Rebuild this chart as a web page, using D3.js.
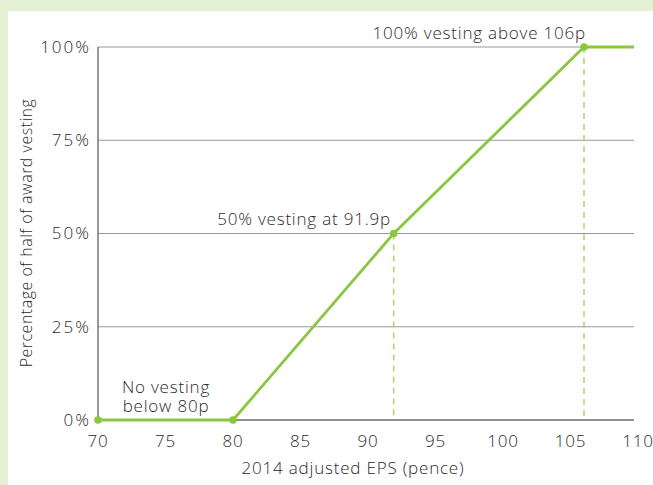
<!DOCTYPE html>
<html><head><meta charset="utf-8">
<script src="https://cdn.jsdelivr.net/npm/d3@7"></script>
<style>body{margin:0;background:#e3f0d4;}svg{display:block;}text{font-family:"Open Sans",sans-serif;font-weight:300;fill:#2a2a2a;letter-spacing:0.8px;}</style>
</head><body><svg id="c" width="653" height="485"></svg>
<script>
const xTicks = [70, 75, 80, 85, 90, 95, 100, 105, 110];
const yTicks = [0, 25, 50, 75, 100];
const yTickLabels = ["0%", "25%", "50%", "75%", "100%"];
const eps = [70, 80, 91.9, 106, 110];
const vesting = [0, 0, 50, 100, 100];
const markerEps = [70, 80, 91.9, 106];
const markerVesting = [0, 0, 50, 100];
const dashedEps = [91.9, 106];
const dashedVesting = [50, 100];
const noVestingLines = ["No vesting", "below 80p"];
const xTitle = "2014 adjusted EPS (pence)";
const yTitle = "Percentage of half of award vesting";

const svg = d3.select("#c");
svg.append("rect").attr("x",8).attr("y",11).attr("width",645).attr("height",474).attr("fill","#fff");
const x = d3.scaleLinear().domain([70,110]).range([98,638]);
const y = d3.scaleLinear().domain([0,100]).range([420,47]);
const xEnd = 634;
const green = "#8cc63f";
const fs = 17;

svg.append("g").selectAll("line").data(yTicks.filter(d=>d>0)).join("line")
  .attr("x1",x(70)).attr("x2",xEnd).attr("y1",d=>y(d)).attr("y2",d=>y(d))
  .attr("stroke","#999").attr("stroke-width",1);
svg.append("line").attr("x1",x(70)).attr("x2",xEnd).attr("y1",y(0)).attr("y2",y(0)).attr("stroke","#222").attr("stroke-width",1.2);
svg.append("line").attr("x1",x(70)).attr("x2",x(70)).attr("y1",y(100)).attr("y2",y(0)).attr("stroke","#777").attr("stroke-width",1.5);

svg.append("g").selectAll("text").data(yTicks).join("text")
  .attr("x",91).attr("y",d=>y(d)).attr("dy","0.35em").attr("text-anchor","end")
  .attr("font-size",fs).style("letter-spacing","2px").text((d,i)=>yTickLabels[i]);
svg.append("g").selectAll("text").data(xTicks).join("text")
  .attr("x",d=>x(d)).attr("y",447).attr("text-anchor","middle")
  .attr("font-size",fs).text(d=>d);

svg.append("g").selectAll("line").data(dashedEps).join("line")
  .attr("x1",d=>x(d)).attr("x2",d=>x(d)).attr("y1",(d,i)=>y(dashedVesting[i])).attr("y2",y(0))
  .attr("stroke","#a9d46e").attr("stroke-width",1.5).attr("stroke-dasharray","6,5");

const pts = eps.map((e,i)=>[e,vesting[i]]);
svg.append("path").datum(pts).attr("fill","none").attr("stroke",green).attr("stroke-width",2.8)
  .attr("d",d3.line().x(d=>Math.min(x(d[0]),xEnd)).y(d=>y(d[1])));
svg.append("g").selectAll("circle").data(markerEps).join("circle")
  .attr("cx",d=>x(d)).attr("cy",(d,i)=>y(markerVesting[i])).attr("r",3.8).attr("fill",green);

const nv = svg.append("text").attr("text-anchor","middle").attr("font-size",fs);
nv.selectAll("tspan").data(noVestingLines).join("tspan")
  .attr("x",166).attr("y",(d,i)=>393+i*19).text(d=>d);
svg.append("text").attr("x",391).attr("y",225).attr("text-anchor","end").attr("font-size",fs).text("50% vesting at 91.9p");
svg.append("text").attr("x",586).attr("y",39).attr("text-anchor","end").attr("font-size",fs).text("100% vesting above 106p");

svg.append("text").attr("x",353).attr("y",474).attr("text-anchor","middle").attr("font-size",fs).text(xTitle);
svg.append("text").attr("transform","translate(32,233) rotate(-90)").attr("text-anchor","middle").attr("font-size",16).style("letter-spacing","0.5px").text(yTitle);
</script></body></html>
